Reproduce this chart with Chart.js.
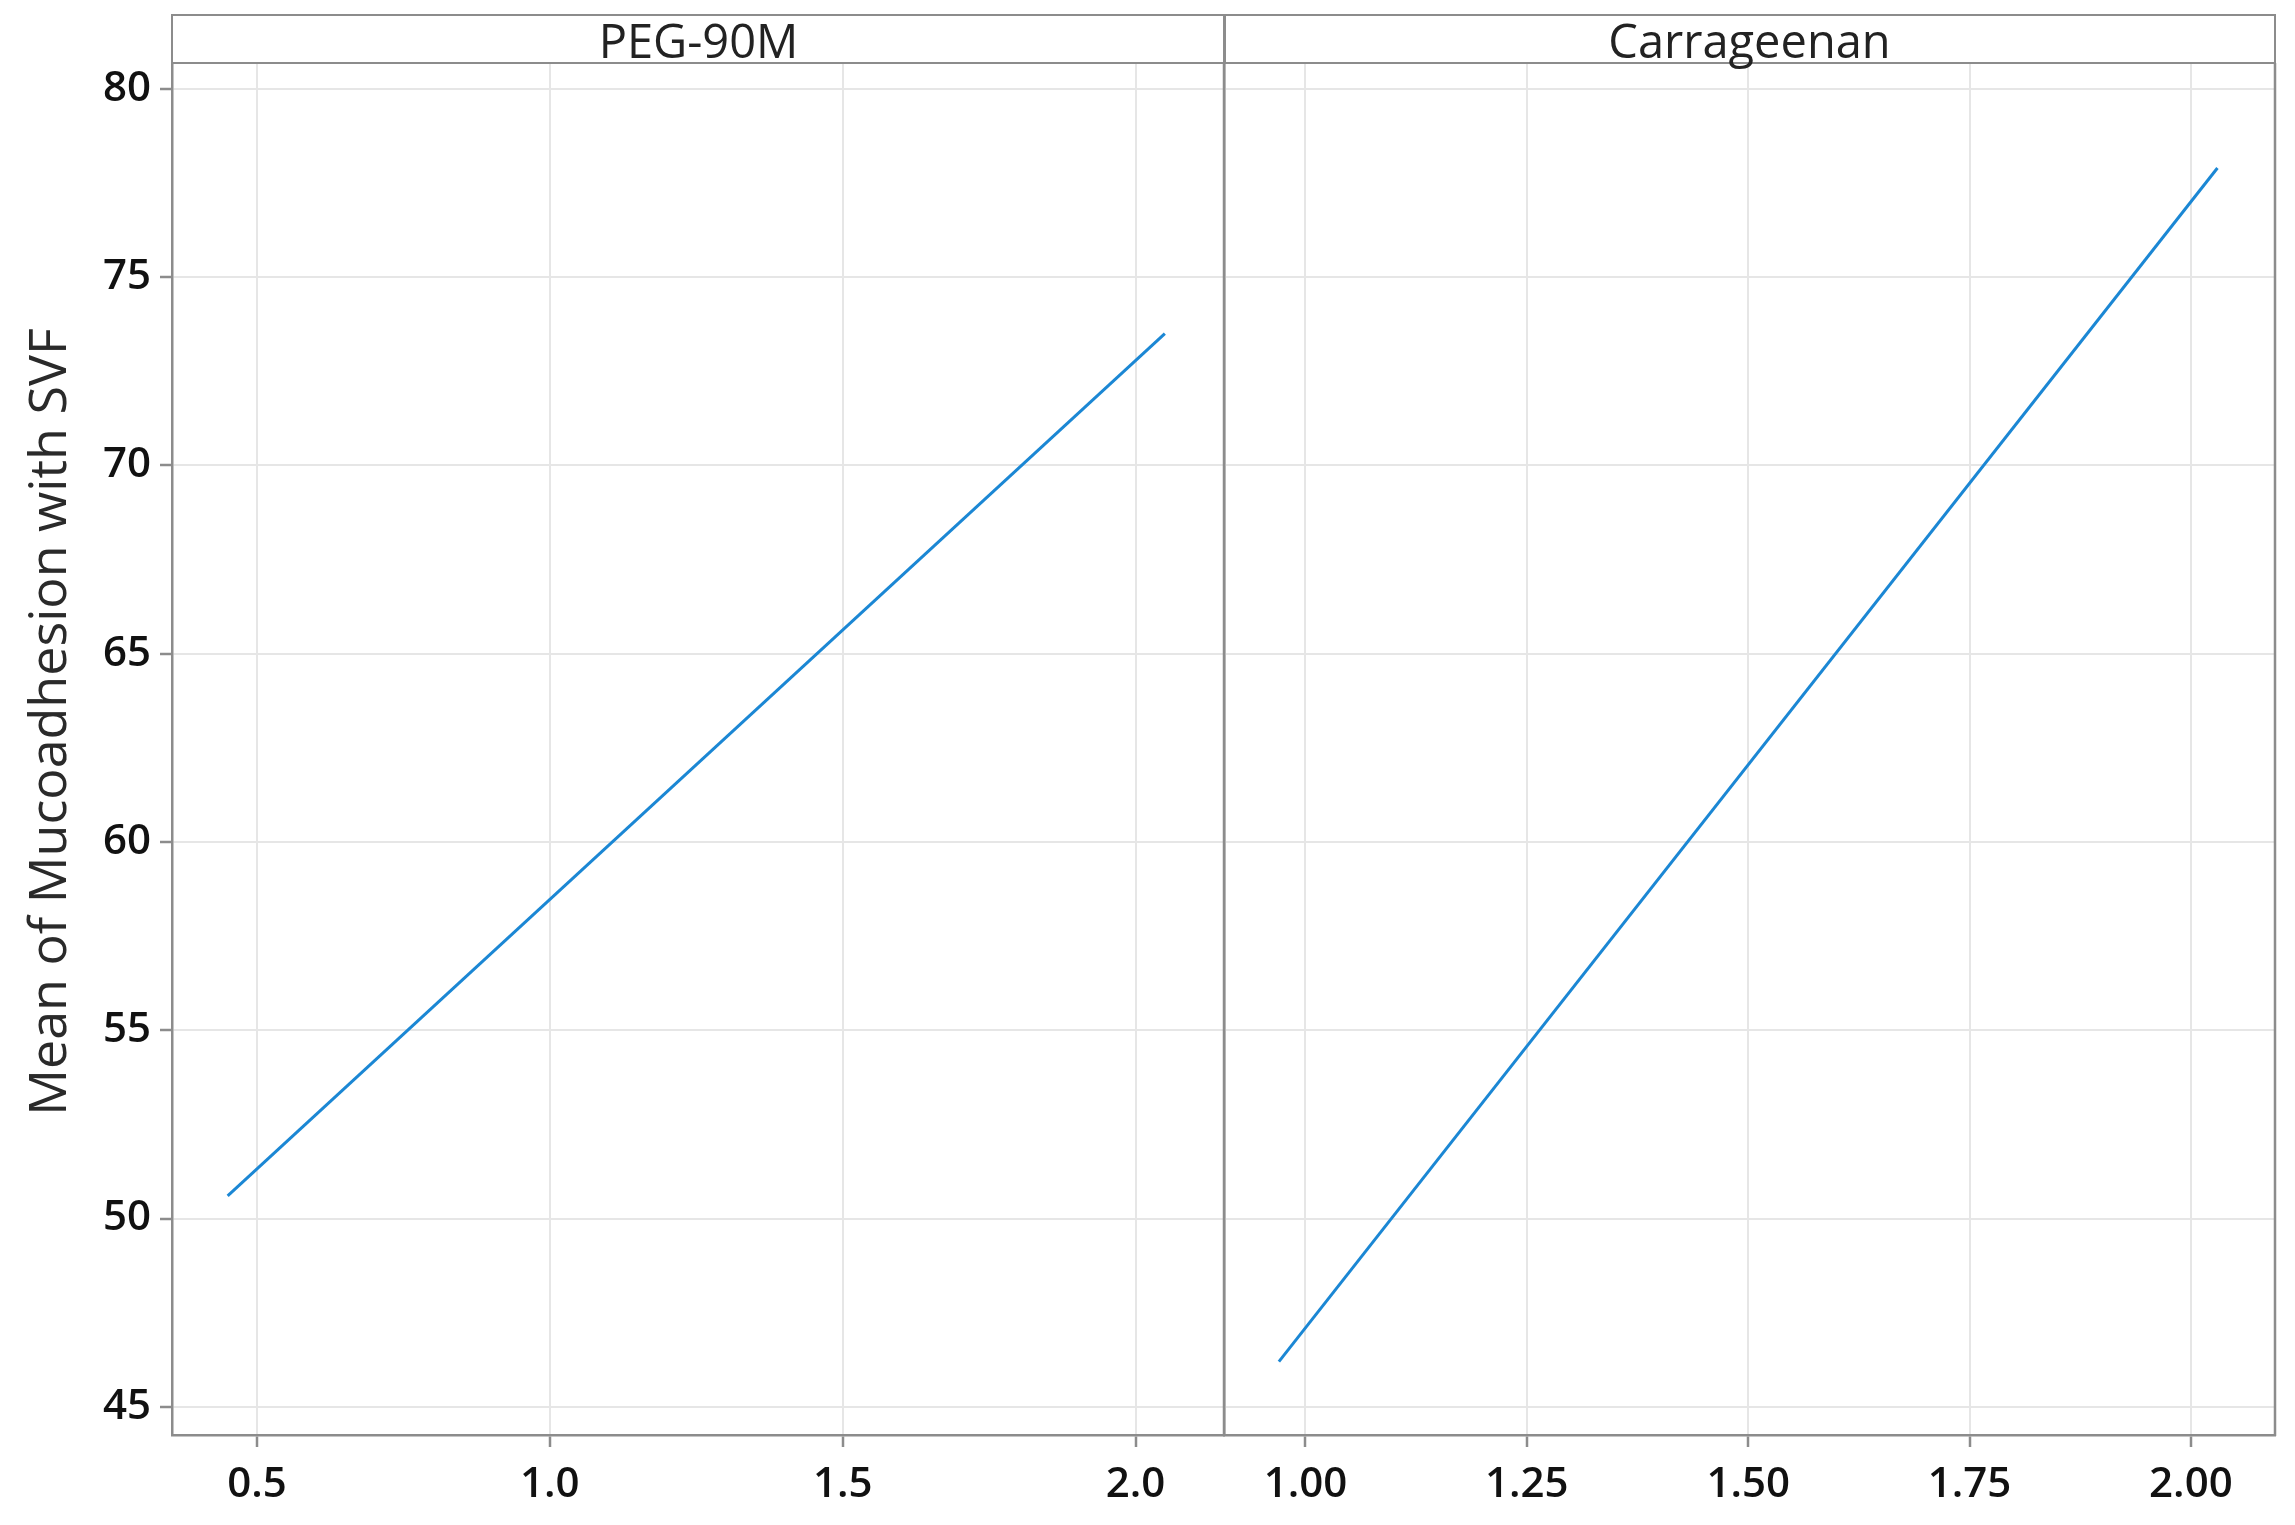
<!DOCTYPE html>
<html>
<head>
<meta charset="utf-8">
<script src="https://cdn.jsdelivr.net/npm/chart.js@4.4.1/dist/chart.umd.min.js"></script>
<style>
  html, body { margin: 0; padding: 0; background: #fff; }
  #wrap { position: relative; width: 2295px; height: 1525px; font-family: "Open Sans", sans-serif; overflow: hidden; }
  canvas { position: absolute; left: 0; top: 0; }
  .strip {
    position: absolute; top: 14px; height: 50px; box-sizing: border-box;
    border: 2.5px solid #8c8c8c; background: transparent;
    font-size: 47px; color: #222; text-align: center; line-height: 48px;
  }
  #ytitle {
    position: absolute; left: -404px; top: 692px; width: 900px; height: 60px;
    line-height: 60px; text-align: center; font-size: 52px; color: #2a2a2a;
    transform: rotate(-90deg);
  }
</style>
</head>
<body>
<div id="wrap">
  <canvas id="chart-peg" width="2295" height="1525"></canvas>
  <canvas id="chart-car" width="2295" height="1525"></canvas>
  <div class="strip" id="strip-peg" style="left:171px; width:1055px;"></div>
  <div class="strip" id="strip-car" style="left:1223px; width:1053px;"></div>
  <div id="ytitle"></div>
</div>
<script>
// Panels and y axis
const panelNames = ["PEG-90M", "Carrageenan"];
const yTitle = "Mean of Mucoadhesion with SVF";
const yTicks = [45, 50, 55, 60, 65, 70, 75, 80];

// PEG-90M panel
const pegX = [0.45, 2.05];
const pegY = [50.6, 73.5];
const pegTicks = [0.5, 1.0, 1.5, 2.0];

// Carrageenan panel
const carX = [0.97, 2.03];
const carY = [46.2, 77.9];
const carTicks = [1.00, 1.25, 1.50, 1.75, 2.00];

const W = 2295, H = 1525;
const frameColor = "#8c8c8c";
const gridColor = "#e6e6e6";
const lineColor = "#1b87d4";
const textColor = "#111";
const font = { family: "'Open Sans', sans-serif", size: 42, weight: "600" };

document.getElementById("strip-peg").textContent = panelNames[0];
document.getElementById("strip-car").textContent = panelNames[1];
document.getElementById("ytitle").textContent = yTitle;

// right edge of each plot area
const framePlugin = {
  id: "frame",
  afterDraw(chart) {
    const { ctx, chartArea: a } = chart;
    ctx.save();
    ctx.strokeStyle = frameColor;
    ctx.lineWidth = 2.5;
    ctx.beginPath();
    ctx.moveTo(a.right, a.top);
    ctx.lineTo(a.right, a.bottom + 1);
    ctx.stroke();
    ctx.restore();
  }
};

function xScale(min, max, ticks, digits) {
  return {
    type: "linear",
    min, max,
    afterBuildTicks: s => { s.ticks = ticks.map(v => ({ value: v })); },
    afterFit: s => { s.height = 90; },
    ticks: { font, color: textColor, padding: 13, callback: v => Number(v).toFixed(digits) },
    grid: { color: gridColor, lineWidth: 2, tickLength: 12, tickColor: frameColor, tickWidth: 2.5 },
    border: { color: frameColor, width: 2.5 },
  };
}

function yScale(showLabels) {
  return {
    min: 44.25, max: 80.69,
    afterBuildTicks: s => { s.ticks = yTicks.map(v => ({ value: v })); },
    afterFit: s => { s.width = showLabels ? 172 : 1224; },
    ticks: { display: showLabels, font, color: textColor, padding: 9 },
    grid: { color: gridColor, lineWidth: 2, drawTicks: showLabels, tickLength: 12, tickColor: frameColor, tickWidth: 2.5 },
    border: { color: frameColor, width: 2.5 },
  };
}

function makeChart(id, xs, ys, xOpts, yOpts, padRight) {
  return new Chart(document.getElementById(id).getContext("2d"), {
    type: "line",
    data: {
      datasets: [{
        data: xs.map((x, i) => ({ x, y: ys[i] })),
        borderColor: lineColor,
        borderWidth: 3,
        pointRadius: 0,
        fill: false,
        tension: 0,
      }],
    },
    options: {
      responsive: false,
      animation: false,
      devicePixelRatio: 1,
      layout: { padding: { top: 63, right: padRight, left: 0, bottom: 0 } },
      plugins: { legend: { display: false }, tooltip: { enabled: false } },
      scales: { x: xOpts, y: yOpts },
    },
    plugins: [framePlugin],
  });
}

makeChart("chart-peg", pegX, pegY, xScale(0.355, 2.151, pegTicks, 1), yScale(true), W - 1224);
makeChart("chart-car", carX, carY, xScale(0.908, 2.095, carTicks, 2), yScale(false), 20);
</script>
</body>
</html>
